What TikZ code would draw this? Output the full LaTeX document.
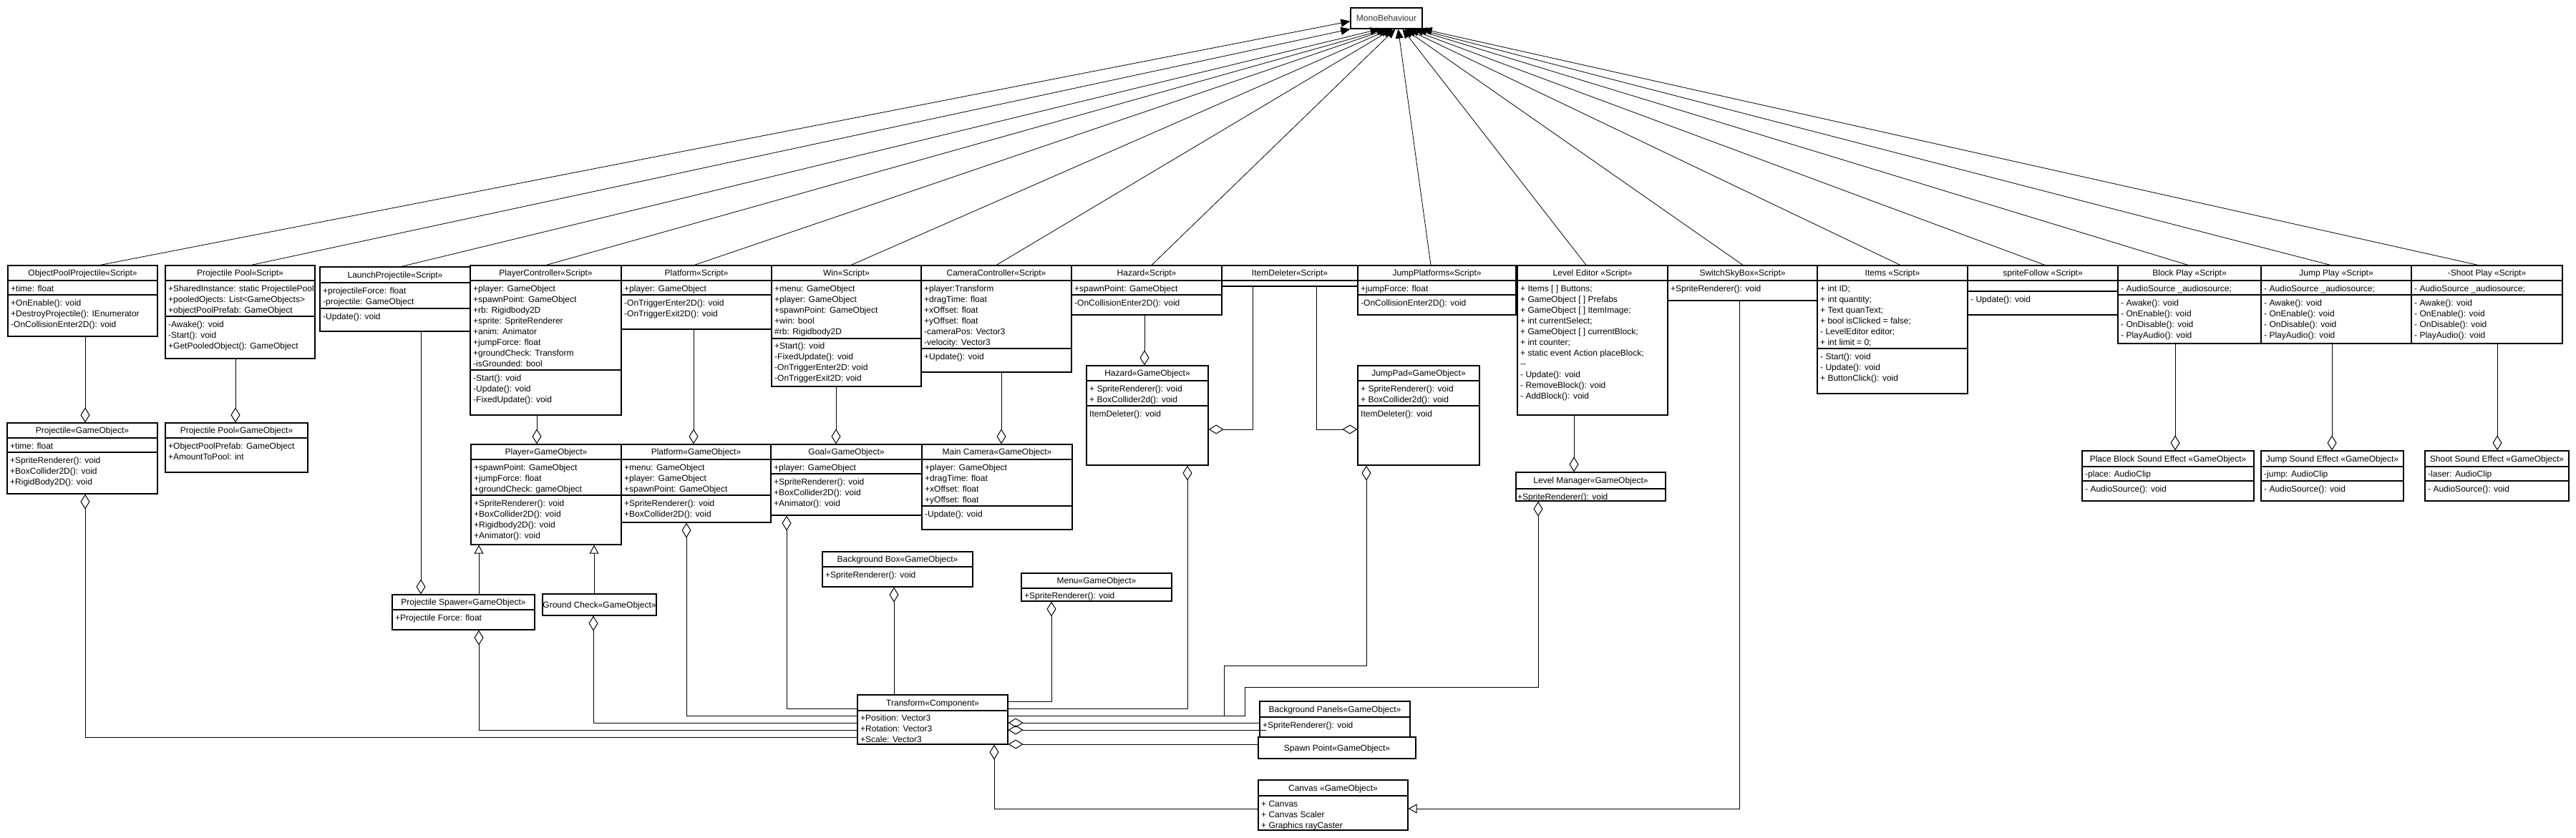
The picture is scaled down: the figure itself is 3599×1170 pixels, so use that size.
\documentclass[tikz,border=0pt]{standalone}
\usepackage{fontspec}
\setmainfont{Liberation Sans}
\usetikzlibrary{arrows.meta,fit,calc}
\tikzset{
 cbox/.style={draw, line width=1.2bp, inner sep=0pt, fill=white},
 cline/.style={line width=1.2bp},
 ctxt/.style={font=\fontsize{12bp}{15bp}\selectfont, inner sep=0pt, text height=8.6bp, text depth=0pt, anchor=west},
 conn/.style={line width=1bp},
 agg/.style={conn, -{Diamond[open, length=21bp, width=13bp]}},
 gen/.style={conn, -{Triangle[open, length=12bp, width=13bp]}},
 inh/.style={line width=0.8bp, -{Triangle[length=13bp, width=11bp]}},
}
\newcommand{\umlcls}[7]{%
  \node[cbox, fit={(#2,#3) (#4,#5)}] (#1) {};
  \draw[cline] (#2,#6) -- (#4,#6);
  \node[ctxt, anchor=center] at ({(#2+#4)/2},{(#3+#6)/2}) {#7};}
\newcommand{\sepl}[2]{\draw[cline] (#1.west |- 0,#2) -- (#1.east |- 0,#2);}
\newcommand{\cmpt}[3]{\foreach \itm [count=\ii from 0] in {#3} {\node[ctxt] at (#1+4,{#2+15*\ii}) {\itm};}}
\begin{document}
\begin{tikzpicture}[x=1bp,y=-1bp]
\fill[white] (0,0) rectangle (3599,1170);
\useasboundingbox (0,0) rectangle (3599,1170);

% ---------- MonoBehaviour ----------
\umlcls{mb}{1887}{11}{1987}{40}{40}{\textcolor[HTML]{333333}{MonoBehaviour}}

% ---------- Script row ----------
\umlcls{opp}{11}{371}{220}{470}{392}{ObjectPoolProjectile«Script»}
\sepl{opp}{412}
\cmpt{11}{403}{+time: float}
\cmpt{11}{423}{+OnEnable(): void, +DestroyProjectile(): IEnumerator, -OnCollisionEnter2D(): void}

\umlcls{pps}{231}{371}{440}{501}{392}{Projectile Pool«Script»}
\sepl{pps}{442}
\cmpt{231}{403}{+SharedInstance: static ProjectilePool, +pooledOjects: List<GameObjects>, +objectPoolPrefab: GameObject}
\cmpt{231}{453}{-Awake(): void, -Start(): void, +GetPooledObject(): GameObject}

\umlcls{lps}{447}{373}{657}{463}{395}{LaunchProjectile«Script»}
\sepl{lps}{431}
\cmpt{447}{406}{+projectileForce: float, -projectile: GameObject}
\cmpt{447}{442}{-Update(): void}

\umlcls{pcs}{657}{371}{868}{580}{392}{PlayerController«Script»}
\sepl{pcs}{517}
\cmpt{657}{403}{+player: GameObject, +spawnPoint: GameObject, +rb: Rigidbody2D, +sprite: SpriteRenderer, +anim: Animator, +jumpForce: float, +groundCheck: Transform, -isGrounded: bool}
\cmpt{657}{528}{-Start(): void, -Update(): void, -FixedUpdate(): void}

\umlcls{pls}{868}{371}{1078}{460}{392}{Platform«Script»}
\sepl{pls}{412}
\cmpt{868}{403}{+player: GameObject}
\cmpt{868}{423}{-OnTriggerEnter2D(): void, -OnTriggerExit2D(): void}

\umlcls{wins}{1078}{371}{1287}{540}{392}{Win«Script»}
\sepl{wins}{473}
\cmpt{1078}{403}{+menu: GameObject, +player: GameObject, +spawnPoint: GameObject, +win: bool, \#rb: Rigidbody2D}
\cmpt{1078}{483}{+Start(): void, -FixedUpdate(): void, -OnTriggerEnter2D: void, -OnTriggerExit2D: void}

\umlcls{cams}{1287}{371}{1497}{520}{392}{CameraController«Script»}
\sepl{cams}{487}
\cmpt{1287}{403}{+player:Transform, +dragTime: float, +xOffset: float, +yOffset: float, -cameraPos: Vector3, -velocity: Vector3}
\cmpt{1287}{498}{+Update(): void}

\umlcls{hazs}{1497}{371}{1707}{440}{392}{Hazard«Script»}
\sepl{hazs}{412}
\cmpt{1497}{403}{+spawnPoint: GameObject}
\cmpt{1497}{423}{-OnCollisionEnter2D(): void}

\umlcls{ids}{1707}{371}{1897}{400}{392}{ItemDeleter«Script»}

\umlcls{jps}{1897}{371}{2118}{440}{392}{JumpPlatforms«Script»}
\sepl{jps}{412}
\cmpt{1897}{403}{+jumpForce: float}
\cmpt{1897}{423}{-OnCollisionEnter2D(): void}

\umlcls{les}{2120}{371}{2330}{580}{392}{Level Editor «Script»}
\cmpt{2120}{403}{+ Items [ ] Buttons;, + GameObject [ ] Prefabs, + GameObject [ ] ItemImage;, + int currentSelect;, + GameObject [ ] currentBlock;, + int counter;, + static event Action placeBlock;, {-}{-}, - Update(): void, - RemoveBlock(): void, - AddBlock(): void}

\umlcls{ssb}{2330}{371}{2539}{420}{392}{SwitchSkyBox«Script»}
\cmpt{2330}{403}{+SpriteRenderer(): void}

\umlcls{items}{2539}{371}{2749}{550}{392}{Items «Script»}
\sepl{items}{487}
\cmpt{2539}{403}{+ int ID;, + int quantity;, + Text quanText;, + bool isClicked = false;, - LevelEditor editor;, + int limit = 0;}
\cmpt{2539}{498}{- Start(): void, - Update(): void, + ButtonClick(): void}

\umlcls{spf}{2749}{371}{2959}{440}{392}{spriteFollow «Script»}
\sepl{spf}{407}
\cmpt{2749}{418}{- Update(): void}

\umlcls{bps}{2959}{371}{3159}{480}{392}{Block Play «Script»}
\sepl{bps}{412}
\cmpt{2959}{403}{- AudioSource \_audiosource;}
\cmpt{2959}{423}{- Awake(): void, - OnEnable(): void, - OnDisable(): void, - PlayAudio(): void}

\umlcls{jpls}{3159}{371}{3369}{480}{392}{Jump Play «Script»}
\sepl{jpls}{412}
\cmpt{3159}{403}{- AudioSource \_audiosource;}
\cmpt{3159}{423}{- Awake(): void, - OnEnable(): void, - OnDisable(): void, - PlayAudio(): void}

\umlcls{sps}{3369}{371}{3580}{480}{392}{-Shoot Play «Script»}
\sepl{sps}{412}
\cmpt{3369}{403}{- AudioSource \_audiosource;}
\cmpt{3369}{423}{- Awake(): void, - OnEnable(): void, - OnDisable(): void, - PlayAudio(): void}

% ---------- GameObjects ----------
\umlcls{projg}{10}{591}{220}{690}{612}{Projectile«GameObject»}
\sepl{projg}{632}
\cmpt{10}{623}{+time: float}
\cmpt{10}{643}{+SpriteRenderer(): void, +BoxCollider2D(): void, +RigidBody2D(): void}

\umlcls{ppg}{231}{591}{430}{660}{612}{Projectile Pool«GameObject»}
\cmpt{231}{623}{+ObjectPoolPrefab: GameObject, +AmountToPool: int}

\umlcls{playg}{658}{621}{868}{761}{642}{Player«GameObject»}
\sepl{playg}{692}
\cmpt{658}{653}{+spawnPoint: GameObject, +jumpForce: float, +groundCheck: gameObject}
\cmpt{658}{703}{+SpriteRenderer(): void, +BoxCollider2D(): void, +Rigidbody2D(): void, +Animator(): void}

\umlcls{platg}{868}{621}{1077}{730}{642}{Platform«GameObject»}
\sepl{platg}{692}
\cmpt{868}{653}{+menu: GameObject, +player: GameObject, +spawnPoint: GameObject}
\cmpt{868}{703}{+SpriteRenderer(): void, +BoxCollider2D(): void}

\umlcls{goalg}{1077}{621}{1288}{720}{642}{Goal«GameObject»}
\sepl{goalg}{662}
\cmpt{1077}{653}{+player: GameObject}
\cmpt{1077}{673}{+SpriteRenderer(): void, +BoxCollider2D(): void, +Animator(): void}

\umlcls{camg}{1288}{621}{1498}{740}{642}{Main Camera«GameObject»}
\sepl{camg}{707}
\cmpt{1288}{653}{+player: GameObject, +dragTime: float, +xOffset: float, +yOffset: float}
\cmpt{1288}{718}{-Update(): void}

\umlcls{hazg}{1518}{511}{1688}{650}{532}{Hazard«GameObject»}
\sepl{hazg}{567}
\cmpt{1518}{543}{+ SpriteRenderer(): void, + BoxCollider2d(): void}
\cmpt{1518}{578}{ItemDeleter(): void}

\umlcls{jpg}{1897}{511}{2067}{650}{532}{JumpPad«GameObject»}
\sepl{jpg}{567}
\cmpt{1897}{543}{+ SpriteRenderer(): void, + BoxCollider2d(): void}
\cmpt{1897}{578}{ItemDeleter(): void}

\umlcls{lmg}{2118}{660}{2327}{700}{683}{Level Manager«GameObject»}
\cmpt{2116}{694}{+SpriteRenderer(): void}

\umlcls{pse}{2909}{630}{3149}{700}{652}{Place Block Sound Effect «GameObject»}
\sepl{pse}{672}
\cmpt{2909}{662}{-place: AudioClip}
\cmpt{2909}{683}{- AudioSource(): void}

\umlcls{jse}{3159}{630}{3358}{700}{652}{Jump Sound Effect «GameObject»}
\sepl{jse}{672}
\cmpt{3159}{662}{-jump: AudioClip}
\cmpt{3159}{683}{- AudioSource(): void}

\umlcls{sse}{3388}{630}{3589}{700}{652}{Shoot Sound Effect «GameObject»}
\sepl{sse}{672}
\cmpt{3388}{662}{-laser: AudioClip}
\cmpt{3388}{683}{- AudioSource(): void}

\umlcls{pspg}{548}{831}{747}{880}{852}{Projectile Spawer«GameObject»}
\cmpt{548}{863}{+Projectile Force: float}

\umlcls{gcg}{758}{830}{917}{860}{860}{Ground Check«GameObject»}

\umlcls{bbg}{1149}{771}{1359}{820}{792}{Background Box«GameObject»}
\cmpt{1149}{803}{+SpriteRenderer(): void}

\umlcls{menug}{1427}{801}{1637}{840}{822}{Menu«GameObject»}
\cmpt{1427}{832}{+SpriteRenderer(): void}

\umlcls{trc}{1198}{971}{1408}{1040}{993}{Transform«Component»}
\cmpt{1198}{1003}{+Position: Vector3, +Rotation: Vector3, +Scale: Vector3}

\umlcls{bpg}{1760}{980}{1970}{1030}{1002}{Background Panels«GameObject»}
\cmpt{1760}{1013}{+SpriteRenderer(): void}

\umlcls{spg}{1758}{1030}{1978}{1060}{1060}{Spawn Point«GameObject»}

\umlcls{cang}{1758}{1090}{1967}{1160}{1112}{Canvas «GameObject»}
\cmpt{1758}{1123}{+ Canvas, + Canvas Scaler, + Graphics rayCaster}

% ---------- inheritance to MonoBehaviour ----------
\draw[inh] (opp.north -| 140,0) -- ([yshift=11bp]mb.south west);
\draw[inh] (pps.north -| 351,0) -- (mb.south west);
\draw[inh] (lps.north -| 561,0) -- ([xshift=41bp]mb.south west);
\draw[inh] (pcs.north -| 763,0) -- ([xshift=50bp]mb.south west);
\draw[inh] (pls.north -| 970,0) -- ([xshift=53bp]mb.south west);
\draw[inh] (wins.north -| 1189,0) -- ([xshift=56bp]mb.south west);
\draw[inh] (cams.north -| 1392,0) -- ([xshift=59bp]mb.south west);
\draw[inh] (hazs.north -| 1609,0) -- ([xshift=63bp]mb.south west);
\draw[inh] (jps.north -| 1999,0) -- ([xshift=67bp]mb.south west);
\draw[inh] (les.north -| 2216,0) -- ([xshift=73bp]mb.south west);
\draw[inh] (ssb.north -| 2435,0) -- ([xshift=76bp]mb.south west);
\draw[inh] (items.north -| 2655,0) -- ([xshift=79bp]mb.south west);
\draw[inh] (spf.north -| 2857,0) -- ([xshift=83bp]mb.south west);
\draw[inh] (bps.north -| 3057,0) -- ([xshift=89bp]mb.south west);
\draw[inh] (jpls.north -| 3256,0) -- ([xshift=94bp]mb.south west);
\draw[inh] (sps.north -| 3462,0) -- (mb.south east);

% ---------- script -> gameobject aggregations ----------
\draw[agg] (opp.south -| 119,0) -- (projg.north -| 119,0);
\draw[agg] (pps.south -| 329,0) -- (ppg.north -| 329,0);
\draw[agg] (lps.south -| 588,0) -- (pspg.north -| 588,0);
\draw[agg] (pcs.south -| 750,0) -- (playg.north -| 750,0);
\draw[agg] (pls.south -| 969,0) -- (platg.north -| 969,0);
\draw[agg] (wins.south -| 1168,0) -- (goalg.north -| 1168,0);
\draw[agg] (cams.south -| 1399,0) -- (camg.north -| 1399,0);
\draw[agg] (hazs.south -| 1599,0) -- (hazg.north -| 1599,0);
\draw[agg] (ids.south -| 1750,0) |- (hazg.east |- 0,600);
\draw[agg] (ids.south -| 1839,0) |- (jpg.west |- 0,600);
\draw[agg] (les.south -| 2199,0) -- (lmg.north -| 2199,0);
\draw[agg] (bps.south -| 3039,0) -- (pse.north -| 3039,0);
\draw[agg] (jpls.south -| 3258,0) -- (jse.north -| 3258,0);
\draw[agg] (sps.south -| 3489,0) -- (sse.north -| 3489,0);

% ---------- generalizations ----------
\draw[gen] (pspg.north -| 669,0) -- (playg.south -| 669,0);
\draw[gen] (gcg.north -| 830,0) -- (playg.south -| 830,0);
\draw[gen] (ssb.south -| 2430,0) |- (cang.east |- 0,1130);

% ---------- Transform connections ----------
\draw[agg] (trc.west |- 0,1030) -| (projg.south -| 119,0);
\draw[agg] (trc.west |- 0,1020) -| (pspg.south -| 669,0);
\draw[agg] (trc.west |- 0,1010) -| (gcg.south -| 829,0);
\draw[agg] (trc.west |- 0,1000) -| (platg.south -| 959,0);
\draw[agg] (trc.west |- 0,990) -| (goalg.south -| 1099,0);
\draw[agg] (trc.north -| 1249,0) -- (bbg.south -| 1249,0);
\draw[agg] (trc.east |- 0,980) -| (menug.south -| 1469,0);
\draw[agg] (trc.east |- 0,990) -| (hazg.south -| 1659,0);
\draw[agg] (trc.east |- 0,1000) -| (1710,930) -| (jpg.south -| 1909,0);
\draw[agg] (trc.east |- 0,1000) -| (1739,960) -| (lmg.south -| 2149,0);
\draw[agg] (bpg.west |- 0,1010) -- (trc.east |- 0,1010);
\draw[agg] ($(bpg.west |- 0,1020)+(10,0)$) -- (trc.east |- 0,1020);
\draw[agg] (spg.west |- 0,1040) -- (trc.east |- 0,1040);
\draw[agg] (cang.west |- 0,1130) -| (trc.south -| 1389,0);
\end{tikzpicture}
\end{document}
